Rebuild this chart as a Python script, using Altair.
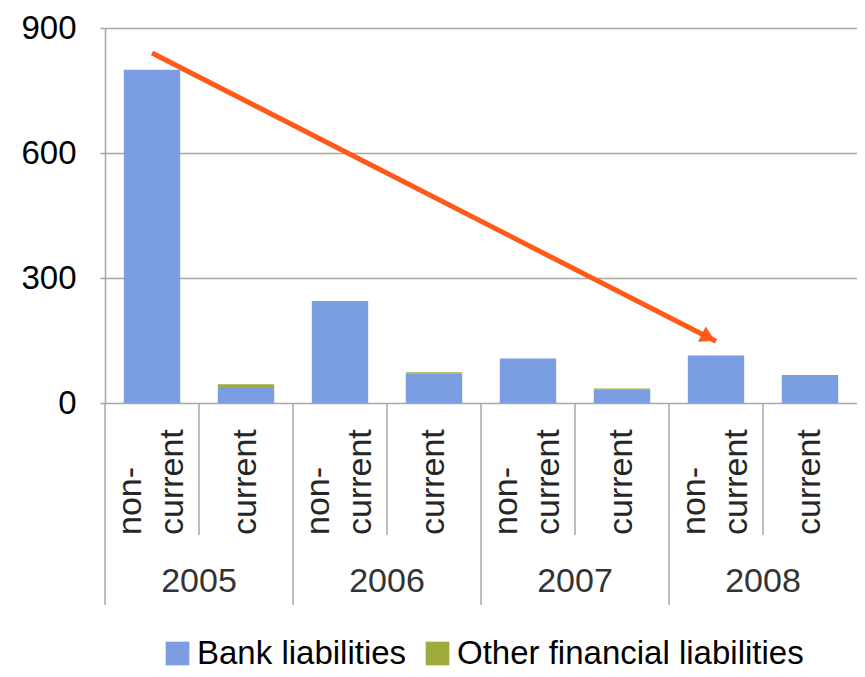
import math
import altair as alt
import pandas as pd

# ---- data ----
years = ["2005", "2006", "2007", "2008"]
terms = ["non-current", "current"]
term_labels = {"non-current": "non-\ncurrent", "current": "current"}
series = ["Bank liabilities", "Other financial liabilities"]
bank_values = [800, 36, 245, 70, 107, 32, 114, 67]
other_values = [0, 9, 0, 4, 0, 3, 0, 0]
arrow_start = ("2005", "non-current", 840)
arrow_end = ("2008", "non-current", 148)
y_ticks = [0, 300, 600, 900]

colors = ["#7B9DE1", "#A0AB3E"]
arrow_color = "#FF5A19"
axis_gray = "#A6A6A6"
FONT = "Liberation Sans"

W, H = 752, 375
TOP = 20

keys = [f"{y} {t}" for y in years for t in terms]

rows = []
for i, k in enumerate(keys):
    y, t = k.split(" ")
    rows.append(dict(key=k, year=y, term=t, series=series[0], value=bank_values[i], ord=0))
    rows.append(dict(key=k, year=y, term=t, series=series[1], value=other_values[i], ord=1))
bars_df = pd.DataFrame(rows)

nc_labels_df = pd.DataFrame([dict(key=f"{y} non-current", label=term_labels["non-current"]) for y in years])
c_labels_df = pd.DataFrame([dict(key=f"{y} current", label=term_labels["current"]) for y in years])
years_df = pd.DataFrame([dict(key=f"{y} current", year=y) for y in years])
sub_sep_df = pd.DataFrame([dict(key=f"{y} current") for y in years])
grp_sep_df = pd.DataFrame([dict(key=f"{y} non-current") for y in years])
arrow_df = pd.DataFrame([
    dict(key=f"{arrow_start[0]} {arrow_start[1]}", v=arrow_start[2], o=0),
    dict(key=f"{arrow_end[0]} {arrow_end[1]}", v=arrow_end[2], o=1),
])
head_df = arrow_df.iloc[[1]]

xscale = alt.Scale(domain=keys, paddingInner=0, paddingOuter=0)
yscale = alt.Scale(domain=[0, 900], nice=False)

# arrow head direction from the scales' geometry
step = W / len(keys)
dx = (keys.index(arrow_df.key[1]) - keys.index(arrow_df.key[0])) * step
dy = (arrow_start[2] - arrow_end[2]) / 900 * H
ang = math.degrees(math.atan2(dy, dx))
head_angle = 90 + ang
head_len = 17
ux, uy = math.cos(math.radians(ang)), math.sin(math.radians(ang))

bars = alt.Chart(bars_df).mark_bar(width=alt.RelativeBandSize(0.6)).encode(
    x=alt.X("key:N", scale=xscale, axis=None),
    y=alt.Y("value:Q", stack="zero", scale=yscale,
            axis=alt.Axis(values=y_ticks, title=None, grid=True)),
    color=alt.Color("series:N", scale=alt.Scale(domain=series, range=colors),
                    legend=alt.Legend(orient="none", legendX=56, legendY=609,
                                      direction="horizontal", title=None,
                                      symbolType="square", symbolSize=560,
                                      symbolStrokeWidth=0, gridAlign="none",
                                      labelFontSize=33, labelFont=FONT,
                                      labelColor="#000000", labelOffset=3,
                                      columnPadding=14, labelLimit=600)),
    order=alt.Order("ord:Q"),
)

sub_sep = alt.Chart(sub_sep_df).mark_rule(color=axis_gray, strokeWidth=1.5).encode(
    x=alt.X("key:N", scale=xscale, bandPosition=0, axis=None),
    y=alt.value(H),
    y2=alt.value(H + 132),
)
grp_sep = alt.Chart(grp_sep_df).mark_rule(color=axis_gray, strokeWidth=1.5).encode(
    x=alt.X("key:N", scale=xscale, bandPosition=0, axis=None),
    y=alt.value(H),
    y2=alt.value(H + 202),
)

nc_text = alt.Chart(nc_labels_df).mark_text(
    angle=270, align="left", baseline="middle", fontSize=34, font=FONT,
    lineHeight=42, lineBreak="\n", color="#262626", dy=-21,
).encode(
    x=alt.X("key:N", scale=xscale, axis=None),
    y=alt.value(H + 132),
    text="label:N",
)
c_text = alt.Chart(c_labels_df).mark_text(
    angle=270, align="left", baseline="middle", fontSize=34, font=FONT,
    color="#262626",
).encode(
    x=alt.X("key:N", scale=xscale, axis=None),
    y=alt.value(H + 132),
    text="label:N",
)

year_text = alt.Chart(years_df).mark_text(
    align="center", baseline="middle", fontSize=34, font=FONT, color="#333333",
).encode(
    x=alt.X("key:N", scale=xscale, bandPosition=0, axis=None),
    y=alt.value(H + 179),
    text="year:N",
)

arrow_line = alt.Chart(arrow_df).mark_line(color=arrow_color, strokeWidth=5, strokeCap="butt").encode(
    x=alt.X("key:N", scale=xscale, axis=None),
    y=alt.Y("v:Q", scale=yscale),
    order="o:Q",
)
arrow_head = alt.Chart(head_df).mark_point(
    shape="triangle-up", filled=True, color=arrow_color, opacity=1,
    size=head_len ** 2, angle=head_angle, strokeWidth=0,
    xOffset=-ux * head_len / 2, yOffset=-uy * head_len / 2,
).encode(
    x=alt.X("key:N", scale=xscale, axis=None),
    y=alt.Y("v:Q", scale=yscale),
)

chart = alt.layer(
    bars, sub_sep, grp_sep, nc_text, c_text, year_text, arrow_line, arrow_head
).properties(
    width=W, height=H,
    autosize=alt.AutoSizeParams(type="none"),
    padding={"left": 97, "top": TOP, "right": 0, "bottom": 661 - TOP - H},
    background="white",
).configure_view(stroke=None).configure_axisY(
    labelFontSize=33, labelFont=FONT, labelColor="#000000", labelPadding=24,
    tickSize=5, tickColor=axis_gray, tickWidth=1.5,
    domainColor=axis_gray, domainWidth=1.5,
    gridColor=axis_gray, gridWidth=1.5,
)

chart.save("out.html", embed_options={"renderer": "svg", "actions": False})
